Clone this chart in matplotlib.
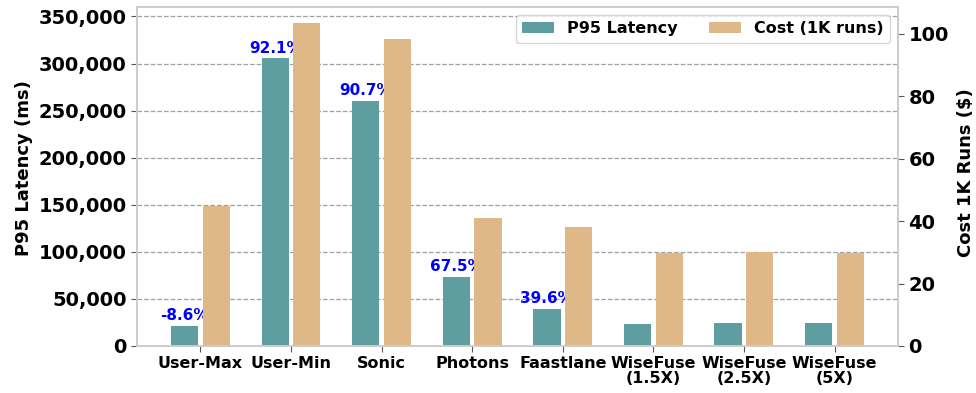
import numpy as np
import matplotlib
matplotlib.use('Agg')
import matplotlib.pyplot as plt
from matplotlib.ticker import FuncFormatter

systems = ['User-Max', 'User-Min', 'Sonic', 'Photons', 'Faastlane',
           'WiseFuse\n(1.5X)', 'WiseFuse\n(2.5X)', 'WiseFuse\n(5X)']
p95_latency = [21200, 305500, 260000, 73200, 39300, 23300, 24400, 24400]
cost_1k = [44.9, 103.4, 98.2, 41.0, 38.1, 29.9, 30.1, 29.9]
reduction = ['-8.6%', '92.1%', '90.7%', '67.5%', '39.6%', None, None, None]

lat_color = '#5F9EA0'
cost_color = '#DEB887'
spine_color = '#cccccc'

x = np.arange(len(systems))
w = 0.3

fig, ax1 = plt.subplots(figsize=(9.76, 3.93), dpi=100)
fig.subplots_adjust(left=0.1404, right=0.920, top=0.982, bottom=0.1196)
ax2 = ax1.twinx()

ax1.set_axisbelow(True)
ax1.grid(axis='y', linestyle='--', color='gray', alpha=0.75, linewidth=0.9)
b1 = ax1.bar(x - 0.175, p95_latency, w, color=lat_color, label='P95 Latency')
b2 = ax2.bar(x + 0.175, cost_1k, w, color=cost_color, label='Cost (1K runs)')

# reduction labels sit above the latency bars (cost bars on ax2 overlap them)
for xi, val, txt in zip(x, p95_latency, reduction):
    if txt is None:
        continue
    ax1.annotate(txt, (xi - 0.175, val), xytext=(0, 2), textcoords='offset points',
                 ha='center', va='bottom', color='blue', fontsize=11, fontweight='bold')

ax1.set_xlim(-0.7, 7.7)
ax1.set_ylim(0, 360000)
ax2.set_ylim(0, 108.5)
ax1.set_yticks(np.arange(0, 350001, 50000))
ax1.yaxis.set_major_formatter(FuncFormatter(lambda v, p: f'{int(v):,}'))
ax2.set_yticks([0, 20, 40, 60, 80, 100])

ax1.set_xticks(x)
ax1.set_xticklabels(systems, fontsize=11.5, fontweight='bold', linespacing=1.0)
for lab in ax1.get_yticklabels() + ax2.get_yticklabels():
    lab.set_fontsize(14)
    lab.set_fontweight('bold')

ax1.set_ylabel('P95 Latency (ms)', fontsize=13, fontweight='bold', y=0.525)
ax2.set_ylabel('Cost 1K Runs ($)', fontsize=13, fontweight='bold', y=0.512, labelpad=6)

for ax in (ax1, ax2):
    for s in ax.spines.values():
        s.set_color(spine_color)
        s.set_linewidth(1.2)
    ax.tick_params(color='#555555', length=4, width=0.8)

ax2.legend([b1, b2], ['P95 Latency', 'Cost (1K runs)'], loc='upper right', ncol=2,
           prop={'size': 11.5, 'weight': 'bold'})

fig.savefig('out.png', dpi=100)
